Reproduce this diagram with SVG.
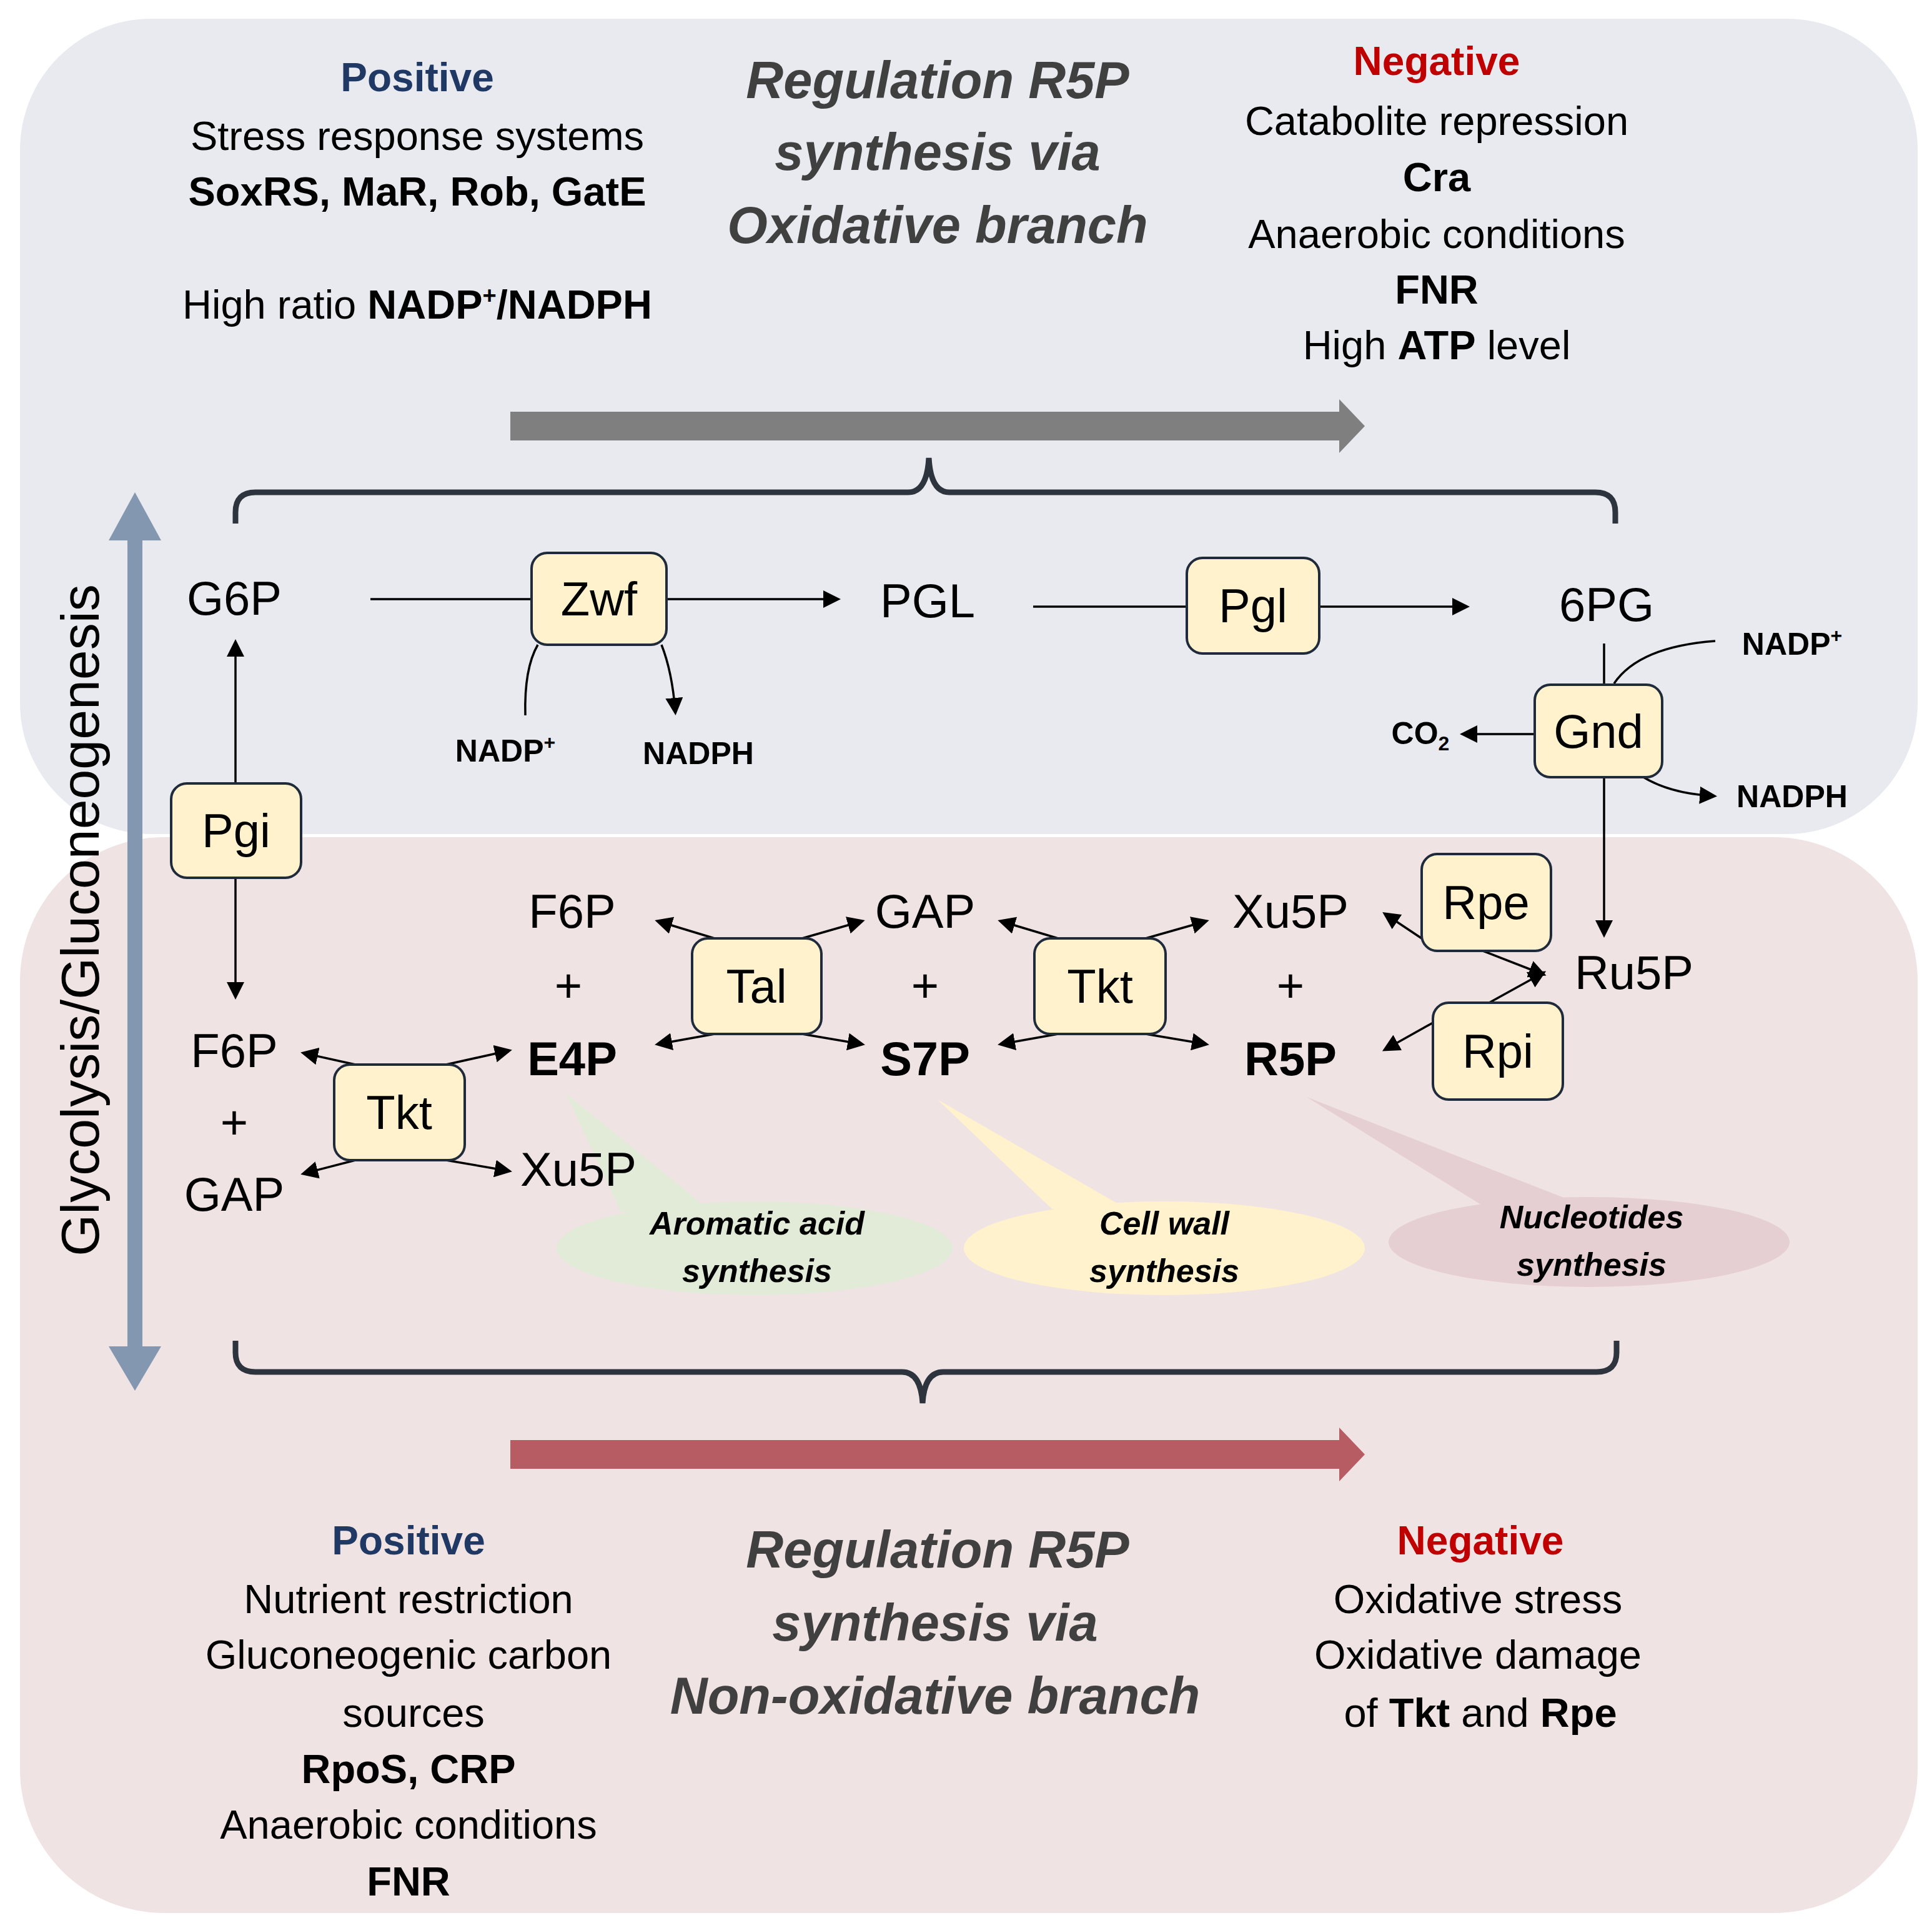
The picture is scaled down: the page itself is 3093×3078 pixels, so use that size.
<svg xmlns="http://www.w3.org/2000/svg" width="3093" height="3078" viewBox="0 0 3093 3078">
<style>
text{font-family:"Liberation Sans","Noto Sans",sans-serif;text-anchor:middle;fill:#000}
.t{font-size:65px}
.b{font-weight:bold}
.ti{font-size:83px;font-weight:bold;font-style:italic;fill:#404040}
.pos{font-size:64px;font-weight:bold;fill:#1F3864}
.neg{font-size:64px;font-weight:bold;fill:#C00000}
.m{font-size:76px}
.s{font-size:50px;font-weight:bold}
.bub{font-size:52px;font-weight:bold;font-style:italic}
.box{fill:#FFF2CC;stroke:#1F2A3A;stroke-width:4}
.ln{stroke:#000;stroke-width:3.5;fill:none}
.brace{stroke:#2E343D;stroke-width:9;fill:none}
</style>
<defs>
<marker id="ah" markerWidth="8" markerHeight="8" refX="6" refY="4" orient="auto" markerUnits="strokeWidth"><path d="M0,0 L8,4 L0,8 z" fill="#000"/></marker>
</defs>
<g id="panels">
<rect x="32" y="30" width="3038" height="1305" rx="210" fill="#E8EAF0"/>
<rect x="32" y="1340" width="3038" height="1722" rx="230" fill="#EFE3E4"/>
</g>
<g transform="translate(-6,-5)">
<g id="bubbles">
<path d="M912,1755 L1000,1945 L1140,1940 z" fill="#E2EBD8"/>
<ellipse cx="1214" cy="2003" rx="317" ry="75" fill="#E2EBD8"/>
<path d="M1507,1765 L1690,1940 L1810,1940 z" fill="#FFF2CC"/>
<ellipse cx="1870" cy="2003" rx="321" ry="75" fill="#FFF2CC"/>
<path d="M2098,1761 L2380,1935 L2530,1930 z" fill="#E6CFD3"/>
<ellipse cx="2550" cy="1993" rx="321" ry="72" fill="#E6CFD3"/>
<text class="bub" x="1218" y="1981">Aromatic acid</text>
<text class="bub" x="1218" y="2057">synthesis</text>
<text class="bub" x="1870" y="1981">Cell wall</text>
<text class="bub" x="1870" y="2057">synthesis</text>
<text class="bub" x="2554" y="1971">Nucleotides</text>
<text class="bub" x="2554" y="2047">synthesis</text>
</g>
<g id="big-arrows">
<path d="M823,664 H2150 V644 L2191,687 L2150,730 V710 H823 z" fill="#7F7F7F"/>
<path d="M823,2310 H2150 V2290 L2191,2333 L2150,2376 V2356 H823 z" fill="#B85C63"/>
<path d="M210,2160 V870 H180 L222,793 L264,870 H234 V2160 H264 L222,2231 L180,2160 z" fill="#8497B0"/>
<text class="m" transform="translate(164,1478) rotate(-90)" style="font-size:86px">Glycolysis/Gluconeogenesis</text>
<path class="brace" d="M383,843 V825 Q383,793 415,793 H1460 Q1490,793 1493,738 Q1496,793 1526,793 H2560 Q2592,793 2592,825 V843"/>
<path class="brace" d="M383,2151 V2170 Q383,2201 415,2201 H1450 Q1480,2201 1483,2251 Q1486,2201 1516,2201 H2562 Q2594,2201 2594,2170 V2151"/>
</g>
<g id="connectors">
<path class="ln" d="M599,964 H857"/>
<path class="ln" d="M1073,964 H1345" marker-end="url(#ah)"/>
<path class="ln" d="M1660,976 H1906"/>
<path class="ln" d="M2118,976 H2352" marker-end="url(#ah)"/>
<path class="ln" d="M847,1150 Q845,1075 867,1037"/>
<path class="ln" d="M1065,1037 Q1082,1080 1087,1143" marker-end="url(#ah)"/>
<path class="ln" d="M2574,1035 V1101"/>
<path class="ln" d="M2574,1249 V1499" marker-end="url(#ah)"/>
<path class="ln" d="M2752,1031 Q2630,1040 2590,1099"/>
<path class="ln" d="M2463,1180 H2350" marker-end="url(#ah)"/>
<path class="ln" d="M2637,1249 Q2680,1275 2748,1279" marker-end="url(#ah)"/>
<path class="ln" d="M383,1259 V1035" marker-end="url(#ah)"/>
<path class="ln" d="M383,1410 V1598" marker-end="url(#ah)"/>
<path class="ln" d="M575,1709 L494,1691" marker-end="url(#ah)"/>
<path class="ln" d="M720,1709 L819,1687" marker-end="url(#ah)"/>
<path class="ln" d="M575,1862 L494,1883" marker-end="url(#ah)"/>
<path class="ln" d="M720,1862 L819,1879" marker-end="url(#ah)"/>
<path class="ln" d="M1150,1507 L1061,1480" marker-end="url(#ah)"/>
<path class="ln" d="M1290,1507 L1384,1480" marker-end="url(#ah)"/>
<path class="ln" d="M1150,1660 L1061,1676" marker-end="url(#ah)"/>
<path class="ln" d="M1290,1660 L1384,1676" marker-end="url(#ah)"/>
<path class="ln" d="M1700,1507 L1610,1480" marker-end="url(#ah)"/>
<path class="ln" d="M1840,1507 L1935,1480" marker-end="url(#ah)"/>
<path class="ln" d="M1700,1660 L1610,1676" marker-end="url(#ah)"/>
<path class="ln" d="M1840,1660 L1935,1676" marker-end="url(#ah)"/>
<path class="ln" d="M2282,1507 L2225,1469" marker-end="url(#ah)"/>
<path class="ln" d="M2380,1527 L2475,1564" marker-end="url(#ah)"/>
<path class="ln" d="M2390,1610 L2475,1563" marker-end="url(#ah)"/>
<path class="ln" d="M2300,1642 L2225,1684" marker-end="url(#ah)"/>
</g>
<g id="n-Zwf"><rect class="box" x="857" y="890" width="216" height="147" rx="25"/><text class="m" x="965" y="990">Zwf</text></g>
<g id="n-Pgl"><rect class="box" x="1906" y="898" width="212" height="153" rx="25"/><text class="m" x="2012" y="1001">Pgl</text></g>
<g id="n-Gnd"><rect class="box" x="2463" y="1101" width="204" height="148" rx="25"/><text class="m" x="2565" y="1202">Gnd</text></g>
<g id="n-Pgi"><rect class="box" x="280" y="1259" width="208" height="151" rx="25"/><text class="m" x="384" y="1361">Pgi</text></g>
<g id="n-Tkt1"><rect class="box" x="541" y="1709" width="209" height="153" rx="25"/><text class="m" x="645" y="1812">Tkt</text></g>
<g id="n-Tal"><rect class="box" x="1114" y="1507" width="207" height="153" rx="25"/><text class="m" x="1217" y="1610">Tal</text></g>
<g id="n-Tkt2"><rect class="box" x="1662" y="1507" width="210" height="153" rx="25"/><text class="m" x="1767" y="1610">Tkt</text></g>
<g id="n-Rpe"><rect class="box" x="2282" y="1372" width="207" height="155" rx="25"/><text class="m" x="2385" y="1476">Rpe</text></g>
<g id="n-Rpi"><rect class="box" x="2300" y="1610" width="208" height="155" rx="25"/><text class="m" x="2404" y="1714">Rpi</text></g>
<g id="metabolites">
<text class="m" x="381" y="989">G6P</text>
<text class="m" x="1491" y="993">PGL</text>
<text class="m" x="2578" y="999">6PG</text>
<text class="s" x="815" y="1224">NADP<tspan font-size="32" dy="-20">+</tspan></text>
<text class="s" x="1124" y="1228">NADPH</text>
<text class="s" x="2875" y="1053">NADP<tspan font-size="32" dy="-20">+</tspan></text>
<text class="s" x="2280" y="1196">CO<tspan font-size="32" dy="10">2</tspan></text>
<text class="s" x="2875" y="1297">NADPH</text>
<text class="m" x="381" y="1713">F6P</text>
<text class="m" x="381" y="1828">+</text>
<text class="m" x="381" y="1943">GAP</text>
<text class="m" x="922" y="1490">F6P</text>
<text class="m" x="916" y="1609">+</text>
<text class="m b" x="922" y="1726">E4P</text>
<text class="m" x="932" y="1903">Xu5P</text>
<text class="m" x="1487" y="1490">GAP</text>
<text class="m" x="1487" y="1609">+</text>
<text class="m b" x="1487" y="1726">S7P</text>
<text class="m" x="2072" y="1490">Xu5P</text>
<text class="m" x="2072" y="1609">+</text>
<text class="m b" x="2072" y="1726">R5P</text>
<text class="m" x="2622" y="1588">Ru5P</text>
</g>
<g id="top-text">
<text class="pos" x="674" y="151">Positive</text>
<text class="t" x="674" y="245">Stress response systems</text>
<text class="t b" x="674" y="334">SoxRS, MaR, Rob, GatE</text>
<text class="t" x="674" y="515">High ratio <tspan font-weight="bold">NADP<tspan font-size="38" dy="-24">+</tspan><tspan dy="24">/NADPH</tspan></tspan></text>
<text class="ti" x="1507" y="162">Regulation R5P</text>
<text class="ti" x="1507" y="277">synthesis via</text>
<text class="ti" x="1507" y="394">Oxidative branch</text>
<text class="neg" x="2306" y="125">Negative</text>
<text class="t" x="2306" y="221">Catabolite repression</text>
<text class="t b" x="2306" y="311">Cra</text>
<text class="t" x="2306" y="402">Anaerobic conditions</text>
<text class="t b" x="2306" y="491">FNR</text>
<text class="t" x="2306" y="580">High <tspan font-weight="bold">ATP</tspan> level</text>
</g>
<g id="bottom-text">
<text class="pos" x="660" y="2493">Positive</text>
<text class="t" x="660" y="2587">Nutrient restriction</text>
<text class="t" x="660" y="2676">Gluconeogenic carbon</text>
<text class="t" x="668" y="2769">sources</text>
<text class="t b" x="660" y="2859">RpoS, CRP</text>
<text class="t" x="660" y="2948">Anaerobic conditions</text>
<text class="t b" x="660" y="3039">FNR</text>
<text class="ti" x="1507" y="2514">Regulation R5P</text>
<text class="ti" x="1503" y="2631">synthesis via</text>
<text class="ti" x="1503" y="2748">Non-oxidative branch</text>
<text class="neg" x="2376" y="2493">Negative</text>
<text class="t" x="2372" y="2587">Oxidative stress</text>
<text class="t" x="2372" y="2676">Oxidative damage</text>
<text class="t" x="2376" y="2769">of <tspan font-weight="bold">Tkt</tspan> and <tspan font-weight="bold">Rpe</tspan></text>
</g>
</g>
</svg>
